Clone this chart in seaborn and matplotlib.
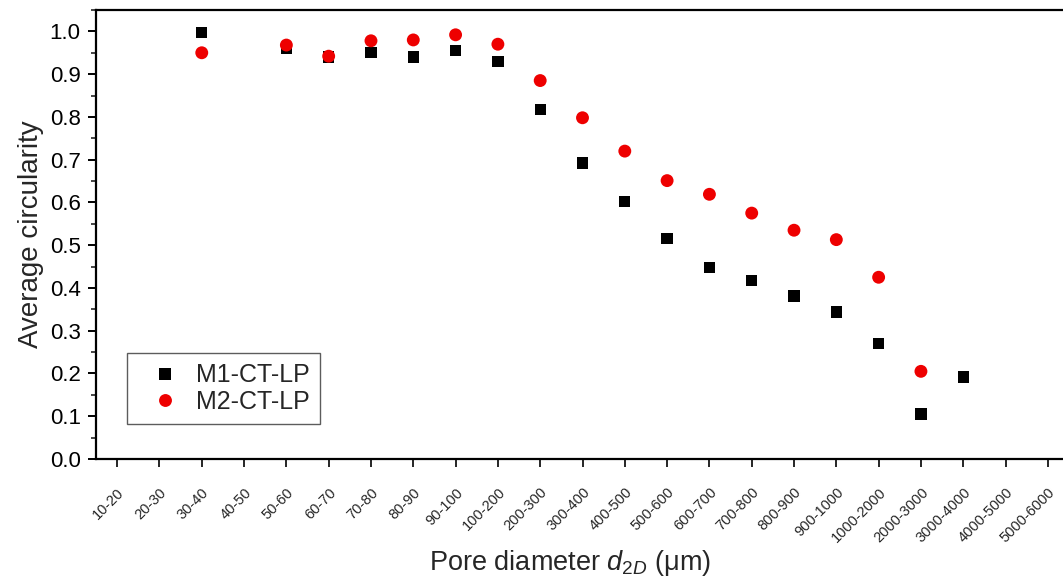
import matplotlib
matplotlib.use("Agg")
import matplotlib.pyplot as plt
import matplotlib.transforms as mtransforms
import seaborn as sns
import pandas as pd
from matplotlib.ticker import MultipleLocator

categories = ["10-20", "20-30", "30-40", "40-50", "50-60", "60-70", "70-80", "80-90",
              "90-100", "100-200", "200-300", "300-400", "400-500", "500-600", "600-700",
              "700-800", "800-900", "900-1000", "1000-2000", "2000-3000", "3000-4000",
              "4000-5000", "5000-6000"]

m1_cats = ["30-40", "50-60", "60-70", "70-80", "80-90", "90-100", "100-200", "200-300",
           "300-400", "400-500", "500-600", "600-700", "700-800", "800-900", "900-1000",
           "1000-2000", "2000-3000", "3000-4000"]
m1_vals = [0.998, 0.960, 0.940, 0.950, 0.940, 0.955, 0.930, 0.818, 0.692, 0.603, 0.515,
           0.447, 0.418, 0.381, 0.344, 0.270, 0.105, 0.192]

m2_cats = ["30-40", "50-60", "60-70", "70-80", "80-90", "90-100", "100-200", "200-300",
           "300-400", "400-500", "500-600", "600-700", "700-800", "800-900", "900-1000",
           "1000-2000", "2000-3000"]
m2_vals = [0.950, 0.968, 0.942, 0.978, 0.980, 0.992, 0.970, 0.885, 0.798, 0.720, 0.651,
           0.619, 0.575, 0.535, 0.513, 0.425, 0.205]

series_names = ["M1-CT-LP", "M2-CT-LP"]

rows = []
for c, v in zip(m1_cats, m1_vals):
    rows.append({"x": categories.index(c), "y": v, "series": series_names[0]})
for c, v in zip(m2_cats, m2_vals):
    rows.append({"x": categories.index(c), "y": v, "series": series_names[1]})
df = pd.DataFrame(rows)

sns.set_theme(style="ticks")
plt.rcParams["font.family"] = ["Liberation Sans", "DejaVu Sans"]
plt.rcParams["mathtext.fontset"] = "custom"
plt.rcParams["mathtext.it"] = "Liberation Sans:italic"
plt.rcParams["mathtext.rm"] = "Liberation Sans"

fig = plt.figure(figsize=(10.63, 5.79), dpi=100)
ax = fig.add_axes([96 / 1063, 120 / 579, 973 / 1063, 449 / 579])

sns.scatterplot(data=df, x="x", y="y", hue="series", style="series", size="series",
                palette={"M1-CT-LP": "black", "M2-CT-LP": "#ee0000"},
                markers={"M1-CT-LP": "s", "M2-CT-LP": "o"},
                sizes={"M1-CT-LP": 66, "M2-CT-LP": 86},
                linewidth=0, ax=ax, legend=True, zorder=3)

ax.set_xlim(-0.5, 22.5)
ax.set_ylim(0.0, 1.05)
ax.set_xticks(range(len(categories)))
ax.set_xticklabels(categories, fontsize=10.5)
offset = mtransforms.ScaledTranslation(11 / 100, 0, fig.dpi_scale_trans)
for lbl in ax.get_xticklabels():
    lbl.set_rotation(45)
    lbl.set_rotation_mode("anchor")
    lbl.set_ha("right")
    lbl.set_va("top")
    lbl.set_transform(lbl.get_transform() + offset)
ax.yaxis.set_major_locator(MultipleLocator(0.1))
ax.yaxis.set_minor_locator(MultipleLocator(0.05))
ax.tick_params(axis="y", labelsize=16, direction="out", length=6, width=1.4, colors="black", pad=5)
ax.tick_params(axis="y", which="minor", length=3.5, width=1.2)
ax.tick_params(axis="x", direction="out", length=6, width=1.4, pad=13)
ax.set_yticklabels([f"{v:.1f}" for v in ax.get_yticks()])

for sp in ax.spines.values():
    sp.set_linewidth(1.6)
    sp.set_color("black")

ax.set_xlabel(r"Pore diameter $d_{2D}$ (μm)", fontsize=19.5)
ax.xaxis.set_label_coords(0.5 - 12 / 973, -0.198)
ax.set_ylabel("Average circularity", fontsize=20, labelpad=4)

leg = ax.legend(loc="lower left", bbox_to_anchor=(0.032, 0.078), borderaxespad=0,
                fontsize=18, frameon=True, fancybox=False, edgecolor="#333333",
                handlelength=2.2, handletextpad=0.15, borderpad=0.4, labelspacing=0.1)
leg.get_frame().set_linewidth(1.0)
leg.set_title(None)

fig.savefig("out.png", dpi=100)
